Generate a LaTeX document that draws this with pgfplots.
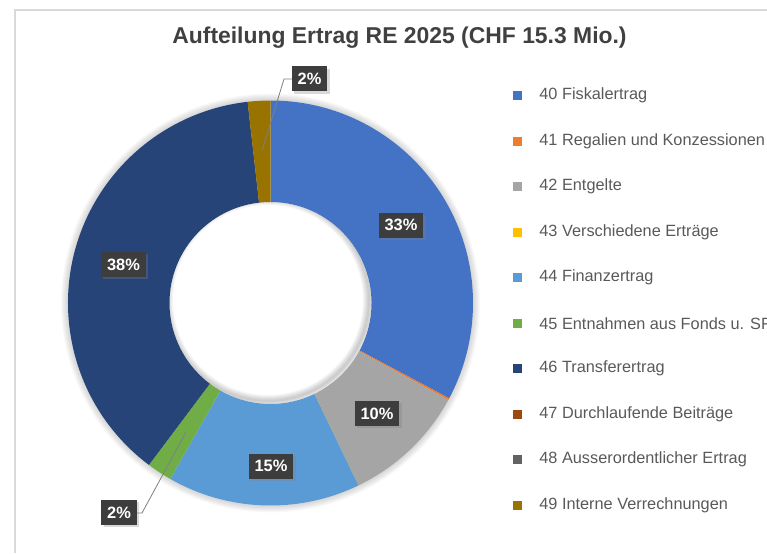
\documentclass[border=0pt]{standalone}
\usepackage{fontspec}
\setmainfont{Liberation Sans}
\usepackage{pgfplots}
\usepackage{pgfplotstable}
\pgfplotsset{compat=1.18}
\usetikzlibrary{shadows}

\definecolor{c0}{HTML}{4472C4}
\definecolor{c1}{HTML}{ED7D31}
\definecolor{c2}{HTML}{A5A5A5}
\definecolor{c3}{HTML}{FFC000}
\definecolor{c4}{HTML}{5B9BD5}
\definecolor{c5}{HTML}{70AD47}
\definecolor{c6}{HTML}{264478}
\definecolor{c7}{HTML}{9E480E}
\definecolor{c8}{HTML}{636363}
\definecolor{c9}{HTML}{997300}
\definecolor{txt}{HTML}{404040}
\definecolor{legtxt}{HTML}{595959}
\definecolor{boxbg}{HTML}{3D3D3D}
\definecolor{frame}{HTML}{D9D9D9}

% Anteile in Prozent
\pgfplotstableread{
nr  anteil
40  32.8
41  0.15
42  9.9
43  0
44  15.4
45  2.0
46  37.95
47  0
48  0
49  1.8
}\ertrag

% Winkel: im Uhrzeigersinn ab 12 Uhr
\gdef\cum{0}
\foreach \i in {0,...,9}{%
  \pgfplotstablegetelem{\i}{anteil}\of\ertrag
  \pgfmathsetmacro\s{90-3.6*\cum}%
  \pgfmathsetmacro\e{\cum+\pgfplotsretval}%
  \xdef\cum{\e}%
  \pgfmathsetmacro\e{90-3.6*\cum}%
  \expandafter\xdef\csname sa\i\endcsname{\s}%
  \expandafter\xdef\csname ea\i\endcsname{\e}%
}
\newcommand\SA[1]{\csname sa#1\endcsname}
\newcommand\EA[1]{\csname ea#1\endcsname}

% Legendentexte
\expandafter\def\csname nm0\endcsname{40 Fiskalertrag}
\expandafter\def\csname nm1\endcsname{41 Regalien und Konzessionen}
\expandafter\def\csname nm2\endcsname{42 Entgelte}
\expandafter\def\csname nm3\endcsname{43 Verschiedene Erträge}
\expandafter\def\csname nm4\endcsname{44 Finanzertrag}
\expandafter\def\csname nm5\endcsname{45 Entnahmen aus Fonds u. SF}
\expandafter\def\csname nm6\endcsname{46 Transferertrag}
\expandafter\def\csname nm7\endcsname{47 Durchlaufende Beiträge}
\expandafter\def\csname nm8\endcsname{48 Ausserordentlicher Ertrag}
\expandafter\def\csname nm9\endcsname{49 Interne Verrechnungen}

% 1 Bildpixel = 0.5pt
\tikzset{
  lbl/.style={fill=boxbg, text=white, font=\fontsize{8.2}{9}\selectfont\bfseries,
    inner xsep=3pt, minimum height=12.5pt,
    drop shadow={shadow xshift=1.2pt, shadow yshift=-1.2pt, opacity=0.3}},
  leg/.style={anchor=west, text=legtxt, font=\fontsize{8.15}{9}\selectfont, inner sep=0pt},
}

\begin{document}
\begin{tikzpicture}
\begin{axis}[
  at={(0pt,0pt)}, anchor=origin,
  scale only axis, width=383.5pt, height=276.5pt,
  xmin=0, xmax=767, ymin=0, ymax=553,
  hide axis, clip=false,
]
\clip (axis cs:0,0) rectangle (axis cs:767,553);
% Rahmen
\draw[frame, line width=0.75pt] (axis cs:15,0) -- (axis cs:15,543) -- (axis cs:767,543);

% Titel
\node[text=txt, font=\fontsize{11.45}{13}\selectfont\bfseries] at (axis cs:399.5,515)
  {Aufteilung Ertrag RE 2025 (CHF 15.3 Mio.)};

% weicher Schatten aussen
\pgfplotsinvokeforeach{1,...,7}{
  \draw[black, opacity=0.025, line width={#1pt}] (axis cs:270.5,250) circle[radius=101.25pt];
}

% Ringsegmente
\pgfplotsinvokeforeach{0,...,9}{
  \fill[c#1] (axis cs:270.5,250) ++(\SA{#1}:101.25pt)
    arc[start angle=\SA{#1}, end angle=\EA{#1}, radius=101.25pt]
    -- ++(\EA{#1}+180:50.75pt)
    arc[start angle=\EA{#1}, end angle=\SA{#1}, radius=50.5pt] -- cycle;
}

% Schatten im Loch
\begin{scope}
  \clip (axis cs:270.5,250) circle[radius=50.5pt];
  \pgfplotsinvokeforeach{1,...,6}{
    \draw[black, opacity=0.035, line width={#1pt}] (axis cs:268,253) circle[radius=50.5pt];
  }
\end{scope}

% Fuehrungslinien
\draw[gray, line width=0.4pt] (axis cs:262,402) -- (axis cs:284,474) -- (axis cs:292,474);
\draw[gray, line width=0.4pt] (axis cs:186,121) -- (axis cs:142,40) -- (axis cs:136,40);

% Datenbeschriftungen
\node[lbl] at (axis cs:401,328) {33\%};
\node[lbl] at (axis cs:377,139.5) {10\%};
\node[lbl] at (axis cs:271,87) {15\%};
\node[lbl] at (axis cs:123.5,288.5) {38\%};
\node[lbl] at (axis cs:309.5,474) {2\%};
\node[lbl] at (axis cs:119,40.5) {2\%};

% Legende
\pgfplotsinvokeforeach{0,...,9}{
  \fill[c#1] (axis cs:513.2,{553-95.7-45.5*#1-4.5}) rectangle (axis cs:522.2,{553-95.7-45.5*#1+4.5});
  \node[leg] at (axis cs:539,{553-95.7-45.5*#1}) {\csname nm#1\endcsname};
}
\end{axis}
\pgfresetboundingbox
\path[use as bounding box] (0,0) rectangle (383.5pt,276.5pt);
\end{tikzpicture}
\end{document}
